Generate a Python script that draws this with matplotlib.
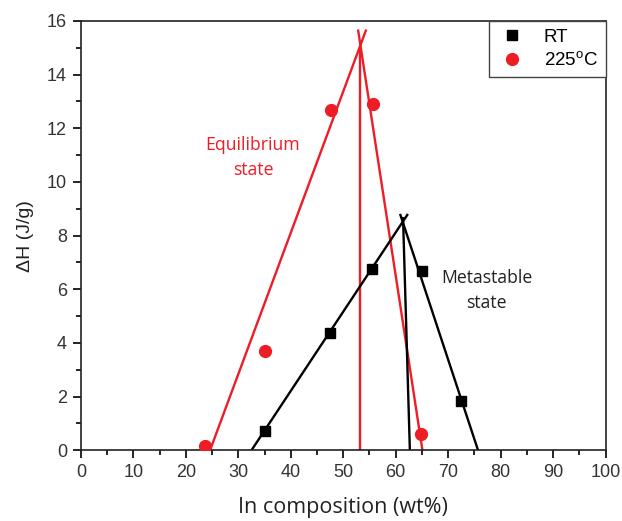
import matplotlib
matplotlib.use("Agg")
import matplotlib.pyplot as plt
from matplotlib.ticker import MultipleLocator

# ---- data ----
rt_x = [35.0, 47.5, 55.5, 65.0, 72.4]
rt_y = [0.72, 4.36, 6.74, 6.68, 1.84]
hot_x = [23.6, 35.0, 47.6, 55.6, 64.9]
hot_y = [0.17, 3.71, 12.68, 12.9, 0.6]

# fitted guide lines (endpoints)
red_left_x, red_left_y = [24.6, 54.3], [0.0, 15.64]
red_right_x, red_right_y = [52.85, 65.1], [15.64, 0.0]
red_vert_x, red_vert_y = [53.2, 53.2], [0.0, 15.0]
blk_left_x, blk_left_y = [32.5, 62.2], [0.0, 8.77]
blk_right_x, blk_right_y = [60.9, 75.7], [8.77, 0.0]
blk_vert_x, blk_vert_y = [62.7, 61.4], [0.0, 8.65]

legend_labels = ["RT", "225$^{\\mathrm{o}}$C"]
x_label = "In composition (wt%)"
y_label = "ΔH (J/g)"

RED = "#ee1c25"
BLK = "#000000"

plt.rcParams["font.family"] = ["Liberation Sans", "DejaVu Sans"]
plt.rcParams["mathtext.fontset"] = "custom"
plt.rcParams["mathtext.rm"] = "Liberation Sans"

fig = plt.figure(figsize=(6.22, 5.21), dpi=100)
ax = fig.add_axes([0.1302, 0.1357, 0.8433, 0.824])

for xs, ys in [(red_left_x, red_left_y), (red_right_x, red_right_y), (red_vert_x, red_vert_y)]:
    ax.plot(xs, ys, color=RED, lw=1.7, zorder=2)
for xs, ys in [(blk_left_x, blk_left_y), (blk_right_x, blk_right_y), (blk_vert_x, blk_vert_y)]:
    ax.plot(xs, ys, color=BLK, lw=1.7, zorder=2)

ax.plot(rt_x, rt_y, ls="none", marker="s", ms=7, color=BLK, label=legend_labels[0], zorder=3)
ax.plot(hot_x, hot_y, ls="none", marker="o", ms=8.5, color=RED, label=legend_labels[1], zorder=3)

ax.set_xlim(0, 100)
ax.set_ylim(0, 16)
ax.xaxis.set_major_locator(MultipleLocator(10))
ax.xaxis.set_minor_locator(MultipleLocator(5))
ax.yaxis.set_major_locator(MultipleLocator(2))
ax.yaxis.set_minor_locator(MultipleLocator(1))
ax.tick_params(which="major", direction="out", length=6, width=1.2, labelsize=13,
               top=False, right=False, pad=4, labelcolor="#333333")
ax.tick_params(which="minor", direction="out", length=3.5, width=1.2, top=False, right=False)
for s in ax.spines.values():
    s.set_linewidth(1.2)
    s.set_color("#222222")

ax.set_xlabel(x_label, fontsize=15.5, fontfamily="Open Sans", color="#222222", labelpad=11.5)
ax.set_ylabel(y_label, fontsize=14, color="#222222", labelpad=9)

ax.text(32.8, 10.91, "Equilibrium\nstate", color=RED, fontsize=12.7, fontfamily="Open Sans",
        ha="center", va="center", linespacing=1.5)
ax.text(77.3, 5.96, "Metastable\nstate", color="#222222", fontsize=12.7, fontfamily="Open Sans",
        ha="center", va="center", linespacing=1.5)

leg = ax.legend(loc="upper right", borderaxespad=0, fancybox=False, framealpha=1,
                edgecolor="#444444", prop={"size": 13.5},
                handletextpad=0.9, borderpad=0.4, labelspacing=0.3, handlelength=1.6)
leg.get_frame().set_linewidth(1.0)

fig.savefig("out.png", dpi=100)
